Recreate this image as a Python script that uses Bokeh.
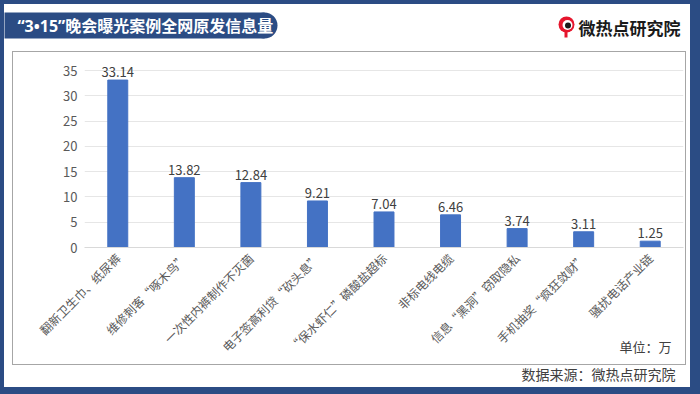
from math import pi
from bokeh.plotting import figure
from bokeh.layouts import column, row
from bokeh.models import FactorRange, Range1d, FixedTicker, Spacer
from bokeh.core.properties import value
from bokeh.embed import file_html
from bokeh.resources import INLINE

categories = ["翻新卫生巾、纸尿裤", "维修刺客“啄木鸟”", "一次性内裤制作不灭菌",
              "电子签高利贷“砍头息”", "“保水虾仁”磷酸盐超标", "非标电线电缆",
              "信息“黑洞”窃取隐私", "手机抽奖“疯狂敛财”", "骚扰电话产业链"]
values = [33.14, 13.82, 12.84, 9.21, 7.04, 6.46, 3.74, 3.11, 1.25]
y_ticks = [0, 5, 10, 15, 20, 25, 30, 35]
title_text = "“3•15”晚会曝光案例全网原发信息量"
brand_text = "微热点研究院"
unit_text = "单位：万"
source_text = "数据来源：微热点研究院"

FONT = "Noto Sans CJK SC"
TITLE_FONT = "Noto Sans, Noto Sans CJK SC"
BLUE = "#2B4C84"
GRAY = "#a6a6a6"
RED = "#E6162D"


def plain_fig(w, h, **kw):
    opts = dict(background_fill_color="white", border_fill_color="white")
    opts.update(kw)
    f = figure(width=w, height=h, x_range=Range1d(0, w), y_range=Range1d(h, 0),
               x_axis_type=None, y_axis_type=None, output_backend="svg",
               toolbar_location=None, min_border=0, outline_line_color=None, **opts)
    return f


# ---------- header ----------
header = plain_fig(686, 47)
header.quad(left=[-2], right=[260], top=[8], bottom=[34], fill_color=BLUE, line_color=None)
header.circle(x=[260], y=[21], radius=13, fill_color=BLUE, line_color=None)
header.text(x=[13], y=[21.5], text=[title_text], text_baseline="middle",
            text_font=value(TITLE_FONT), text_font_size="16px", text_font_style="bold",
            text_color="white")
# logo icon
header.circle(x=[562], y=[20], radius=8, fill_color=RED, line_color=None)
header.circle(x=[563], y=[20.5], radius=5, fill_color="white", line_color=None)
header.circle(x=[563.5], y=[21], radius=3, fill_color="#1a1a1a", line_color=None)
header.quad(left=[560], right=[563], top=[27], bottom=[33], fill_color=RED, line_color=None)
header.text(x=[574], y=[22.5], text=[brand_text], text_baseline="middle",
            text_font=value(FONT), text_font_size="17px", text_font_style="bold",
            text_color="#1a1a1a")

# ---------- chart ----------
p = figure(x_range=FactorRange(*categories), y_range=Range1d(0, 38),
           width=672, height=312, output_backend="svg", toolbar_location=None,
           min_border_left=71, min_border_right=2, min_border_top=3,
           min_border_bottom=117, background_fill_color="white",
           border_fill_color="white")

p.vbar(x=categories, top=values, width=0.3, color="#4472C4")
p.text(x=categories, y=values, text=[f"{v:.2f}" for v in values],
       text_align="center", text_baseline="bottom", y_offset=-3,
       text_font_size="13px", text_color="#404040", text_font=value(FONT))

p.yaxis.ticker = FixedTicker(ticks=y_ticks)
p.yaxis.axis_line_color = None
p.yaxis.major_tick_line_color = None
p.yaxis.minor_tick_line_color = None
p.yaxis.major_tick_out = 0
p.yaxis.major_tick_in = 0
p.yaxis.major_label_text_font_size = "13px"
p.yaxis.major_label_text_color = "#595959"
p.yaxis.major_label_text_font = FONT
p.yaxis.major_label_standoff = 7

p.xaxis.major_label_orientation = pi / 4
p.xaxis.axis_line_color = "#d9d9d9"
p.xaxis.major_tick_line_color = None
p.xaxis.minor_tick_line_color = None
p.xaxis.major_tick_out = 0
p.xaxis.major_tick_in = 0
p.xaxis.major_label_text_font_size = "12px"
p.xaxis.major_label_text_color = "#595959"
p.xaxis.major_label_text_font = FONT
p.xaxis.major_label_standoff = 8

p.xgrid.grid_line_color = None
p.ygrid.grid_line_color = "#e6e6e6"
p.outline_line_color = None

# unit note, overlaid on the bottom-right corner of the chart box
unit_fig = plain_fig(674, 26, background_fill_alpha=0, border_fill_alpha=0,
                     styles={"margin-top": "-26px"})
unit_fig.text(x=[659], y=[8], text=[unit_text], text_baseline="middle", text_align="right",
              text_font=value(FONT), text_font_size="13px", text_color="#404040")

# ---------- footer ----------
footer = plain_fig(686, 22)
footer.text(x=[671], y=[8], text=[source_text], text_baseline="middle", text_align="right",
            text_font=value(FONT), text_font_size="14px", text_color="#404040")


def sp(w, h, color=None):
    kw = {"styles": {"background-color": color}} if color else {}
    return Spacer(width=w, height=h, **kw)


box = column(sp(674, 1, GRAY),
             row(sp(1, 312, GRAY), p, sp(1, 312, GRAY)),
             unit_fig,
             sp(674, 1, GRAY))
inner = column(header,
               row(sp(8, 314), box, sp(4, 314)),
               footer,
               styles={"background-color": "white"})
page = column(sp(700, 4, BLUE),
              row(sp(4, 383, BLUE), inner, sp(10, 383, BLUE)),
              sp(700, 7, BLUE),
              styles={"background-color": BLUE})

open("out.html", "w").write(file_html(page, INLINE))
